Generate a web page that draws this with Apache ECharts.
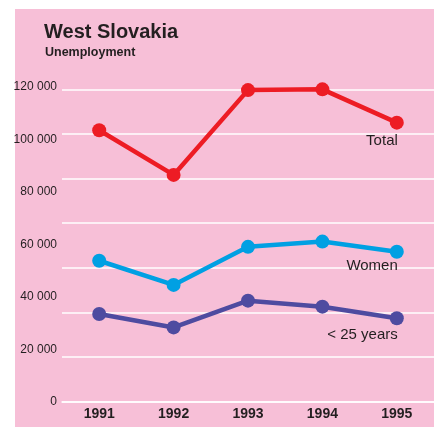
<!DOCTYPE html>
<html>
<head>
<meta charset="utf-8">
<script src="https://cdn.jsdelivr.net/npm/echarts@6/dist/echarts.min.js"></script>
<style>
html,body{margin:0;padding:0;background:#fff;}
#chart{width:434px;height:427px;}
</style>
</head>
<body>
<div id="chart"></div>
<script>
var years = ['1991', '1992', '1993', '1994', '1995'];
var total = [103400, 86400, 118700, 119000, 106300];
var women = [53700, 44500, 59000, 61000, 57100];
var youth = [33400, 28300, 38500, 36200, 31800];
var seriesNames = ['Total', 'Women', '< 25 years'];
var seriesColors = ['#ED1C24', '#00A0E3', '#4E4BA0'];
var labelDistances = [4, 0, 2];

var FONT = '"Liberation Sans", Arial, Helvetica, sans-serif';
var TEXT = '#231F20';

function buildData(values, idx) {
  return values.map(function (v, i) {
    if (i === values.length - 1) {
      return {
        value: v,
        label: {
          show: true,
          position: 'bottom',
          align: 'right',
          distance: labelDistances[idx],
          offset: [1, 0],
          formatter: seriesNames[idx],
          fontFamily: FONT,
          fontSize: 15,
          color: TEXT
        }
      };
    }
    return v;
  });
}

var chart = echarts.init(document.getElementById('chart'), null, {renderer: 'canvas'});
var allValues = [total, women, youth];
var series = allValues.map(function (vals, idx) {
  return {
    name: seriesNames[idx],
    type: 'line',
    data: buildData(vals, idx),
    symbol: 'circle',
    symbolSize: 14,
    lineStyle: {color: seriesColors[idx], width: 4.5},
    itemStyle: {color: seriesColors[idx]},
    emphasis: {disabled: true},
    animation: false,
    z: 5
  };
});

chart.setOption({
  backgroundColor: '#ffffff',
  animation: false,
  graphic: [{
    type: 'rect',
    left: 15, top: 9,
    shape: {width: 419, height: 418},
    style: {fill: '#F7BFD7'},
    z: -10
  }],
  title: [{
    text: 'West Slovakia',
    left: 44, top: 22,
    padding: 0,
    textStyle: {fontFamily: FONT, fontSize: 20, fontWeight: 'bold', color: TEXT}
  }, {
    text: 'Unemployment',
    left: 45, top: 46,
    padding: 0,
    textStyle: {fontFamily: FONT, fontSize: 12.5, fontWeight: 'bold', color: TEXT}
  }],
  grid: {left: 62, right: -2, top: 86.7, bottom: 25.3, containLabel: false},
  xAxis: {
    type: 'category',
    data: years,
    boundaryGap: true,
    axisLine: {show: true, lineStyle: {color: '#ffffff', width: 1.5}},
    axisTick: {show: false},
    axisLabel: {fontFamily: FONT, fontSize: 14, fontWeight: 'bold', color: TEXT, margin: 5},
    splitLine: {show: false}
  },
  yAxis: [{
    type: 'value',
    min: 0, max: 120000, interval: 20000,
    axisLine: {show: false},
    axisTick: {show: false},
    splitLine: {show: false},
    axisLabel: {
      fontFamily: FONT, fontSize: 12, color: TEXT, margin: 5,
      formatter: function (v) {
        return String(v).replace(/\B(?=(\d{3})+(?!\d))/g, ' ');
      }
    }
  }, {
    type: 'value',
    position: 'left',
    min: 0, max: 120000, interval: 17000,
    axisLine: {show: false},
    axisTick: {show: false},
    axisLabel: {show: false},
    splitLine: {show: true, showMaxLine: false, lineStyle: {color: '#ffffff', width: 1.5}}
  }],
  series: series
});
</script>
</body>
</html>
